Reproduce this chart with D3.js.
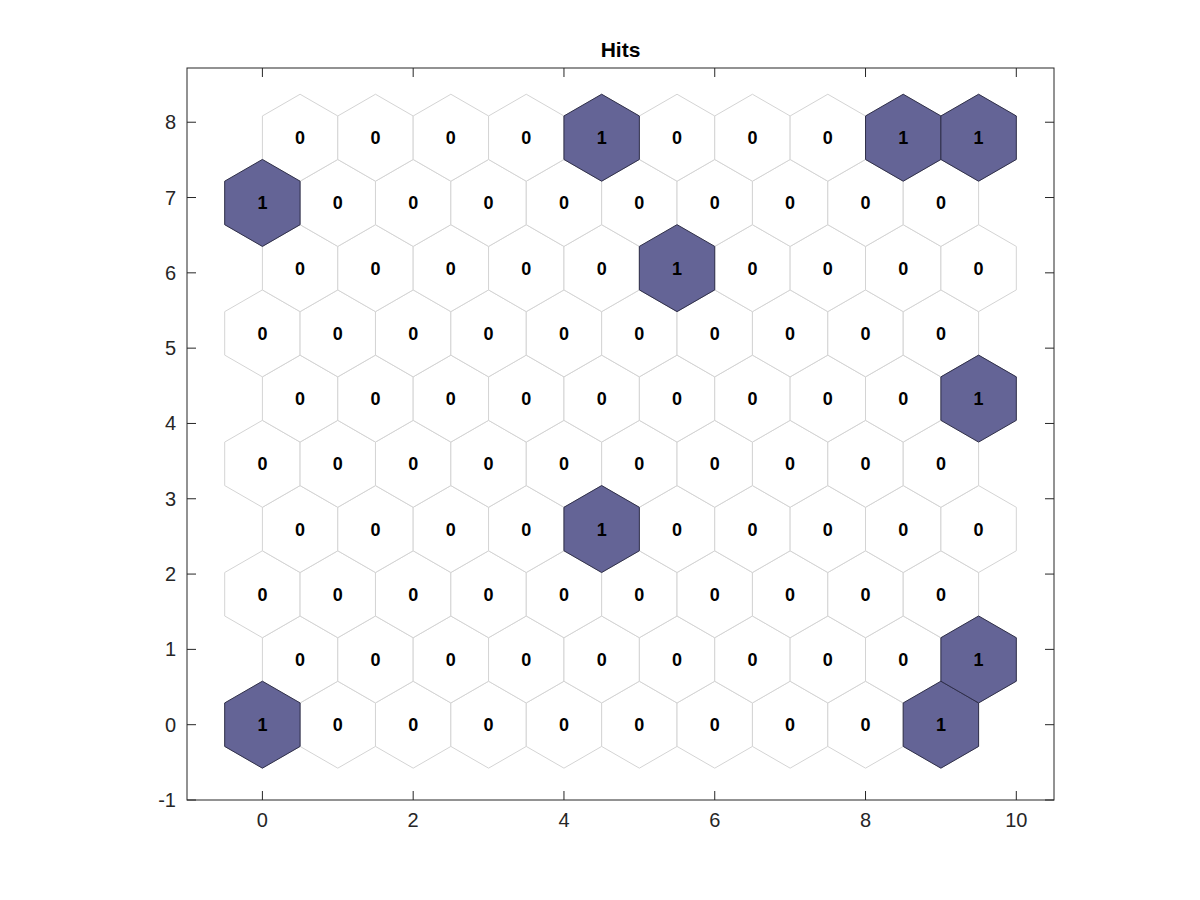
<!DOCTYPE html>
<html><head><meta charset="utf-8">
<script src="https://cdn.jsdelivr.net/npm/d3@7"></script>
<style>body{margin:0;background:#fff;} text{font-family:"Liberation Sans",Arial,sans-serif;}</style>
</head><body>
<svg id="c" width="1200" height="900"></svg>
<script>
const title = "Hits";
const nCols = 10;
const nRows = 10;
// hits per neuron, row by row from bottom (row 0) to top (row 9)
const hitRows = [
  [1,0,0,0,0,0,0,0,0,1],
  [0,0,0,0,0,0,0,0,0,1],
  [0,0,0,0,0,0,0,0,0,0],
  [0,0,0,0,1,0,0,0,0,0],
  [0,0,0,0,0,0,0,0,0,0],
  [0,0,0,0,0,0,0,0,0,1],
  [0,0,0,0,0,0,0,0,0,0],
  [0,0,0,0,0,1,0,0,0,0],
  [1,0,0,0,0,0,0,0,0,0],
  [0,0,0,0,1,0,0,0,1,1]
];
const xTicks = [0,2,4,6,8,10];
const yTicks = [-1,0,1,2,3,4,5,6,7,8];

const svg = d3.select("#c");
const L=187, R=1054, T=68, B=800;
const x = d3.scaleLinear().domain([-1,10.5]).range([L,R]);
const y = d3.scaleLinear().domain([-1,8.72]).range([B,T]);

const cells = [];
hitRows.forEach((row,j)=>row.forEach((h,i)=>{
  cells.push({cx: i + (j%2?0.5:0), cy: j*Math.sqrt(3)/2, h});
}));
const maxHit = d3.max(cells, d=>d.h);
const r = 1/Math.sqrt(3);
function hexPts(cx,cy,s){
  const pts=[];
  for(let k=0;k<6;k++){
    const a = Math.PI/2 + k*Math.PI/3;
    pts.push([x(cx + s*r*Math.cos(a)), y(cy + s*r*Math.sin(a))]);
  }
  return pts.map(p=>p.join(",")).join(" ");
}
const g = svg.append("g");
g.selectAll("polygon.grid").data(cells).join("polygon")
  .attr("class","grid")
  .attr("points",d=>hexPts(d.cx,d.cy,1))
  .attr("fill","#fff").attr("stroke","#d4d4d4").attr("stroke-width",1);
g.selectAll("polygon.hit").data(cells.filter(d=>d.h>0)).join("polygon")
  .attr("class","hit")
  .attr("points",d=>hexPts(d.cx,d.cy,Math.sqrt(d.h/maxHit)))
  .attr("fill","#646496").attr("stroke","#2f2f4a").attr("stroke-width",1);
g.selectAll("text.lab").data(cells).join("text")
  .attr("class","lab")
  .attr("x",d=>x(d.cx)).attr("y",d=>y(d.cy))
  .attr("dy","0.36em").attr("text-anchor","middle")
  .attr("font-size",18).attr("font-weight","bold").attr("fill","#000")
  .text(d=>d.h);

// box
svg.append("rect").attr("x",L).attr("y",T).attr("width",R-L).attr("height",B-T)
  .attr("fill","none").attr("stroke","#262626").attr("stroke-width",1);
const tl = 9;
const ax = svg.append("g").attr("stroke","#262626");
xTicks.forEach(t=>{
  ax.append("line").attr("x1",x(t)).attr("x2",x(t)).attr("y1",B).attr("y2",B-tl);
  ax.append("line").attr("x1",x(t)).attr("x2",x(t)).attr("y1",T).attr("y2",T+tl);
});
yTicks.forEach(t=>{
  ax.append("line").attr("x1",L).attr("x2",L+tl).attr("y1",y(t)).attr("y2",y(t));
  ax.append("line").attr("x1",R).attr("x2",R-tl).attr("y1",y(t)).attr("y2",y(t));
});
svg.selectAll("text.xt").data(xTicks).join("text").attr("class","xt")
  .attr("x",d=>x(d)).attr("y",B+20).attr("dy","0.35em").attr("text-anchor","middle")
  .attr("font-size",20).attr("fill","#262626").text(d=>d);
svg.selectAll("text.yt").data(yTicks).join("text").attr("class","yt")
  .attr("x",L-11).attr("y",d=>y(d)).attr("dy","0.35em").attr("text-anchor","end")
  .attr("font-size",20).attr("fill","#262626").text(d=>d);
svg.append("text").attr("x",(L+R)/2).attr("y",T-11).attr("text-anchor","middle")
  .attr("font-size",21).attr("font-weight","bold").attr("fill","#000").text(title);
</script>
</body></html>
